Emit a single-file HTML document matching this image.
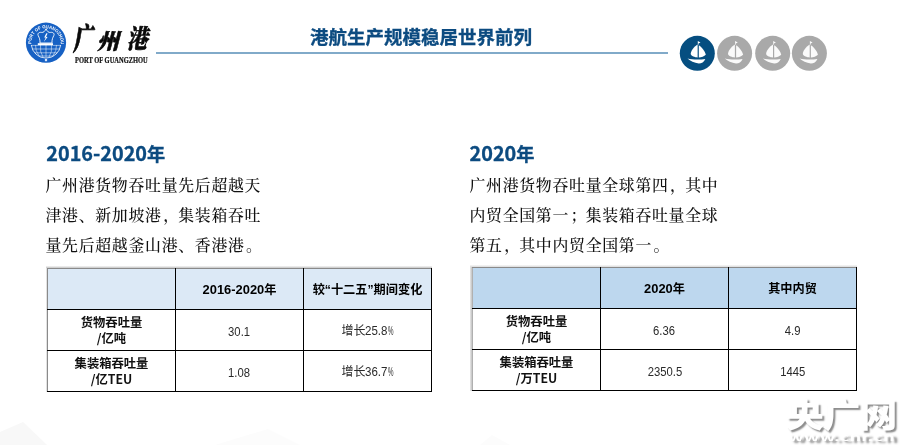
<!DOCTYPE html>
<html lang="zh-CN">
<head>
<meta charset="utf-8">
<title>港航生产规模稳居世界前列</title>
<style>
html,body{margin:0;padding:0;}
body{width:900px;height:445px;position:relative;overflow:hidden;background:#fff;font-family:"Liberation Sans","Noto Sans CJK SC",sans-serif;}
.abs{position:absolute;white-space:nowrap;}
.title{left:310px;top:23px;font-size:18.5px;line-height:26px;font-weight:bold;color:#0c4b80;-webkit-text-stroke:0.3px #0c4b80;font-family:"Noto Sans CJK SC","Liberation Sans",sans-serif;}
.hline{left:156px;top:52px;width:512px;height:2px;background:linear-gradient(#9cbcd5,#6698bd 50%,#9cbcd5);}
.h2{font-size:19.8px;line-height:26px;font-weight:bold;color:#0c4b80;-webkit-text-stroke:0.35px #0c4b80;font-family:"Noto Sans CJK SC","Liberation Sans",sans-serif;}
.h2 span{font-size:18.2px;}
.body .pt{font-style:normal;position:relative;left:1.5px;}
.body{font-family:"Noto Serif CJK SC","Liberation Serif",serif;font-size:15.9px;letter-spacing:0.7px;font-weight:500;line-height:30px;color:#111;}
table{position:absolute;border-collapse:collapse;table-layout:fixed;}
td,th{border:1px solid #000;padding:0;text-align:center;vertical-align:middle;width:127px;}
th{font-weight:bold;font-size:12.4px;color:#000;height:40px;font-family:"Liberation Sans","Noto Sans CJK SC",sans-serif;}
th .n{font-size:12.9px;font-weight:bold;}
th{font-size:12.2px;}
th .w{font-style:normal;display:inline-block;position:relative;top:-0.5px;}
td{height:40px;font-size:12.4px;line-height:16px;color:#2a2a2a;font-family:"Liberation Sans","Noto Sans CJK SC",sans-serif;}
td .v{font-style:normal;display:inline-block;position:relative;top:1.5px;transform:scaleX(0.91);}
td .v.c{top:0.6px;transform:none;}
td .c .k{text-decoration:none;font-size:12px;}
td .c .n{font-weight:normal;display:inline-block;transform:scaleX(0.93);transform-origin:0 50%;margin-right:-1.6px;}
td .c .p{text-decoration:none;display:inline-block;transform:scaleX(0.5);transform-origin:0 50%;margin-right:-5.5px;}
td.rh{font-weight:bold;font-size:12.3px;line-height:16px;color:#111;font-family:"Noto Sans CJK SC","Liberation Sans",sans-serif;}
th{border-top-color:#8a8a8a;}
tr>:first-child{border-left-color:#8a8a8a;}
.t1 th{background:#dce9f6;}
.sh{position:absolute;}
.t2 th{background:#bdd7ee;}
.t2 tr>:first-child{border-left-color:#b0b0b0;}
.logo-cn{font-family:"Noto Serif CJK SC",serif;font-weight:900;font-style:italic;color:#0a0a0a;line-height:1;transform-origin:0 0;-webkit-text-stroke:0.6px #0a0a0a;}
.logo-en{font-family:"Liberation Serif",serif;font-weight:bold;font-size:7.2px;color:#111;-webkit-text-stroke:0.2px #111;transform:scaleX(0.9);transform-origin:0 0;}
.wm{font-family:"Noto Sans CJK SC","Liberation Sans",sans-serif;font-weight:900;color:#fff;text-shadow:1.8px 1.8px 1.6px #8c8c8c;transform-origin:0 0;}
</style>
</head>
<body>
<!-- faint background shapes -->
<svg class="abs" style="left:0;top:405px" width="900" height="40" viewBox="0 0 900 40">
  <polygon points="0,27 23,17 47,40 0,40" fill="#f8f8f8"/>
  <polygon points="215,40 268,24 300,40" fill="#fcfcfc"/>
  <polygon points="480,40 492,30 510,40" fill="#fcfcfc"/>
</svg>

<!-- logo -->
<svg class="abs" style="left:25px;top:22px" width="42" height="42" viewBox="0 0 42 42">
  <defs><path id="arc" d="M6.3 22.8 A14.8 14.8 0 1 1 35.7 22.8"/></defs>
  <circle cx="21" cy="20.7" r="20.1" fill="#1761c4"/>
  <path d="M6.3 23 A14.8 14.8 0 0 0 35.7 23" fill="none" stroke="#fff" stroke-width="0.8"/>
  <text font-family="Liberation Sans, sans-serif" font-weight="bold" font-size="4.6" fill="#fff"><textPath href="#arc" startOffset="1" textLength="48" lengthAdjust="spacingAndGlyphs">PORT OF GUANGZHOU</textPath></text>
  <path d="M6.3 23.4 H35.7 M7.4 27 H34.6 M9.6 30.8 H32.4 M13.5 34 H28.5 M21 23 V35.6 M15.5 23 Q14.6 30 18 35 M26.5 23 Q27.4 30 24 35 M10.5 23 Q10.3 29 14 33.6 M31.5 23 Q31.7 29 28 33.6" stroke="#fff" stroke-width="0.5" fill="none"/>
  <path d="M21 6.8 C22 9.2 23.5 10.8 25.6 10.4 C28 10 29.8 11.6 28.8 13.6 C27.8 15.6 26.8 17.6 27 21 L15 21 C15.2 17.6 14.2 15.6 13.2 13.6 C12.2 11.6 14 10 16.4 10.4 C18.5 10.8 20 9.2 21 6.8 Z" fill="none" stroke="#fff" stroke-width="0.9"/>
  <path d="M21.3 11.2 L19.2 15.4 L20.8 15.6 L18.8 20 L22.6 15 L21 14.8 L22.6 11.6 Z" fill="#fff"/>
  <rect x="12.8" y="21.2" width="15.2" height="1.8" fill="#fff"/>
  <rect x="19.9" y="37" width="2.2" height="2.2" fill="#dfe8fb"/>
</svg>
<div class="abs logo-cn" style="left:73px;top:22px;font-size:24px;transform:scale(0.82,1.28);">广</div>
<div class="abs logo-cn" style="left:97px;top:29px;font-size:24px;transform:scale(0.92,0.9);">州</div>
<div class="abs logo-cn" style="left:127px;top:24px;font-size:24px;transform:scale(0.86,1.08);">港</div>
<div class="abs logo-en" style="left:75px;top:55.5px;line-height:10px;">PORT OF GUANGZHOU</div>

<div class="abs title">港航生产规模稳居世界前列</div>
<div class="abs hline"></div>

<!-- icons -->
<svg class="abs" style="left:676px;top:32px" width="156" height="42" viewBox="676 32 156 42">
  <defs>
    <g id="boat">
      <path d="M0.5 -12.3 L3.2 -10.8 L1.2 -9.8 L1.2 -8.6 L0.5 -8.6 Z" fill="#fff"/>
      <path d="M0.3 -8.8 C-3.5 -6.5 -6.5 -2.5 -6.6 0.8 C-6 3 -2.5 4 0.3 4.3 Z" fill="#fff"/>
      <path d="M1.5 -8 C4.5 -6 7.8 -2 8.5 1.5 C7 3.2 4 4 1.5 4.3 Z" fill="#fff"/>
      <path d="M-9.8 5.3 C-5 6.5 3 6.7 8 5.6 C6.8 8.8 4.2 10.2 1.5 10.2 C-3 9.8 -7 8 -9.8 5.3 Z" fill="#fff"/>
    </g>
  </defs>
  <circle cx="697.3" cy="53.3" r="17.5" fill="#054e80"/>
  <use href="#boat" x="697.3" y="53.3"/>
  <g opacity="0.96">
  <circle cx="734.6" cy="53.3" r="17.5" fill="#a6a6a6"/>
  <use href="#boat" x="734.6" y="53.3" opacity="0.95"/>
  <circle cx="772.7" cy="53.3" r="17.5" fill="#a6a6a6"/>
  <use href="#boat" x="772.7" y="53.3" opacity="0.95"/>
  <circle cx="809.4" cy="53.3" r="17.5" fill="#a6a6a6"/>
  <use href="#boat" x="809.4" y="53.3" opacity="0.95"/>
  </g>
</svg>

<!-- left -->
<div class="abs h2" style="left:46.3px;top:140px;">2016-2020<span>年</span></div>
<div class="abs body" style="left:45.5px;top:169.5px;">广州港货物吞吐量先后超越天<br>津港、新加坡港<span class="pt">，</span>集装箱吞吐<br>量先后超越釜山港、香港港<span class="pt">。</span></div>

<table class="t1" style="left:47px;top:268px;">
<tr><th></th><th><span class="w"><span class="n">2016-2020</span>年</span></th><th><span class="w">较“十二五”期间变化</span></th></tr>
<tr><td class="rh">货物吞吐量<br>/亿吨</td><td><span class="v">30.1</span></td><td><span class="v c"><span class="k">增长</span><span class="n">25.8</span><span class="p">%</span></span></td></tr>
<tr><td class="rh">集装箱吞吐量<br>/亿TEU</td><td><span class="v">1.08</span></td><td><span class="v c"><span class="k">增长</span><span class="n">36.7</span><span class="p">%</span></span></td></tr>
</table>

<div class="sh" style="left:45.5px;top:267px;width:1.5px;height:125px;background:linear-gradient(90deg,#f4f4f4,#cfcfcf);"></div>
<div class="sh" style="left:46px;top:265.5px;width:386px;height:2.5px;background:linear-gradient(#f6f6f6,#c4c4c4);"></div>
<!-- right -->
<div class="abs h2" style="left:469.6px;top:140px;">2020<span>年</span></div>
<div class="abs body" style="left:469.5px;top:169.5px;">广州港货物吞吐量全球第四<span class="pt">，</span>其中<br>内贸全国第一<span class="pt">；</span>集装箱吞吐量全球<br>第五<span class="pt">，</span>其中内贸全国第一<span class="pt">。</span></div>

<table class="t2" style="left:472px;top:267px;">
<tr><th></th><th><span class="w"><span class="n">2020</span>年</span></th><th><span class="w">其中内贸</span></th></tr>
<tr><td class="rh">货物吞吐量<br>/亿吨</td><td><span class="v">6.36</span></td><td><span class="v">4.9</span></td></tr>
<tr><td class="rh">集装箱吞吐量<br>/万TEU</td><td><span class="v">2350.5</span></td><td><span class="v">1445</span></td></tr>
</table>

<div class="sh" style="left:469.5px;top:266px;width:2.5px;height:125px;background:linear-gradient(90deg,#e8e8e8,#c2c2c2);"></div>
<div class="sh" style="left:469.5px;top:265px;width:387px;height:2px;background:linear-gradient(#f8f8f8,#dadada);"></div>
<div class="abs wm" style="left:785.5px;top:394.5px;font-size:36px;line-height:40px;letter-spacing:-1px;transform:scale(1.05,0.9);">央广网</div>
<div class="abs wm" style="left:788px;top:431.5px;font-size:9px;line-height:12px;font-weight:bold;transform:scale(2.04,1);">www.cnr.cn</div>
</body>
</html>
